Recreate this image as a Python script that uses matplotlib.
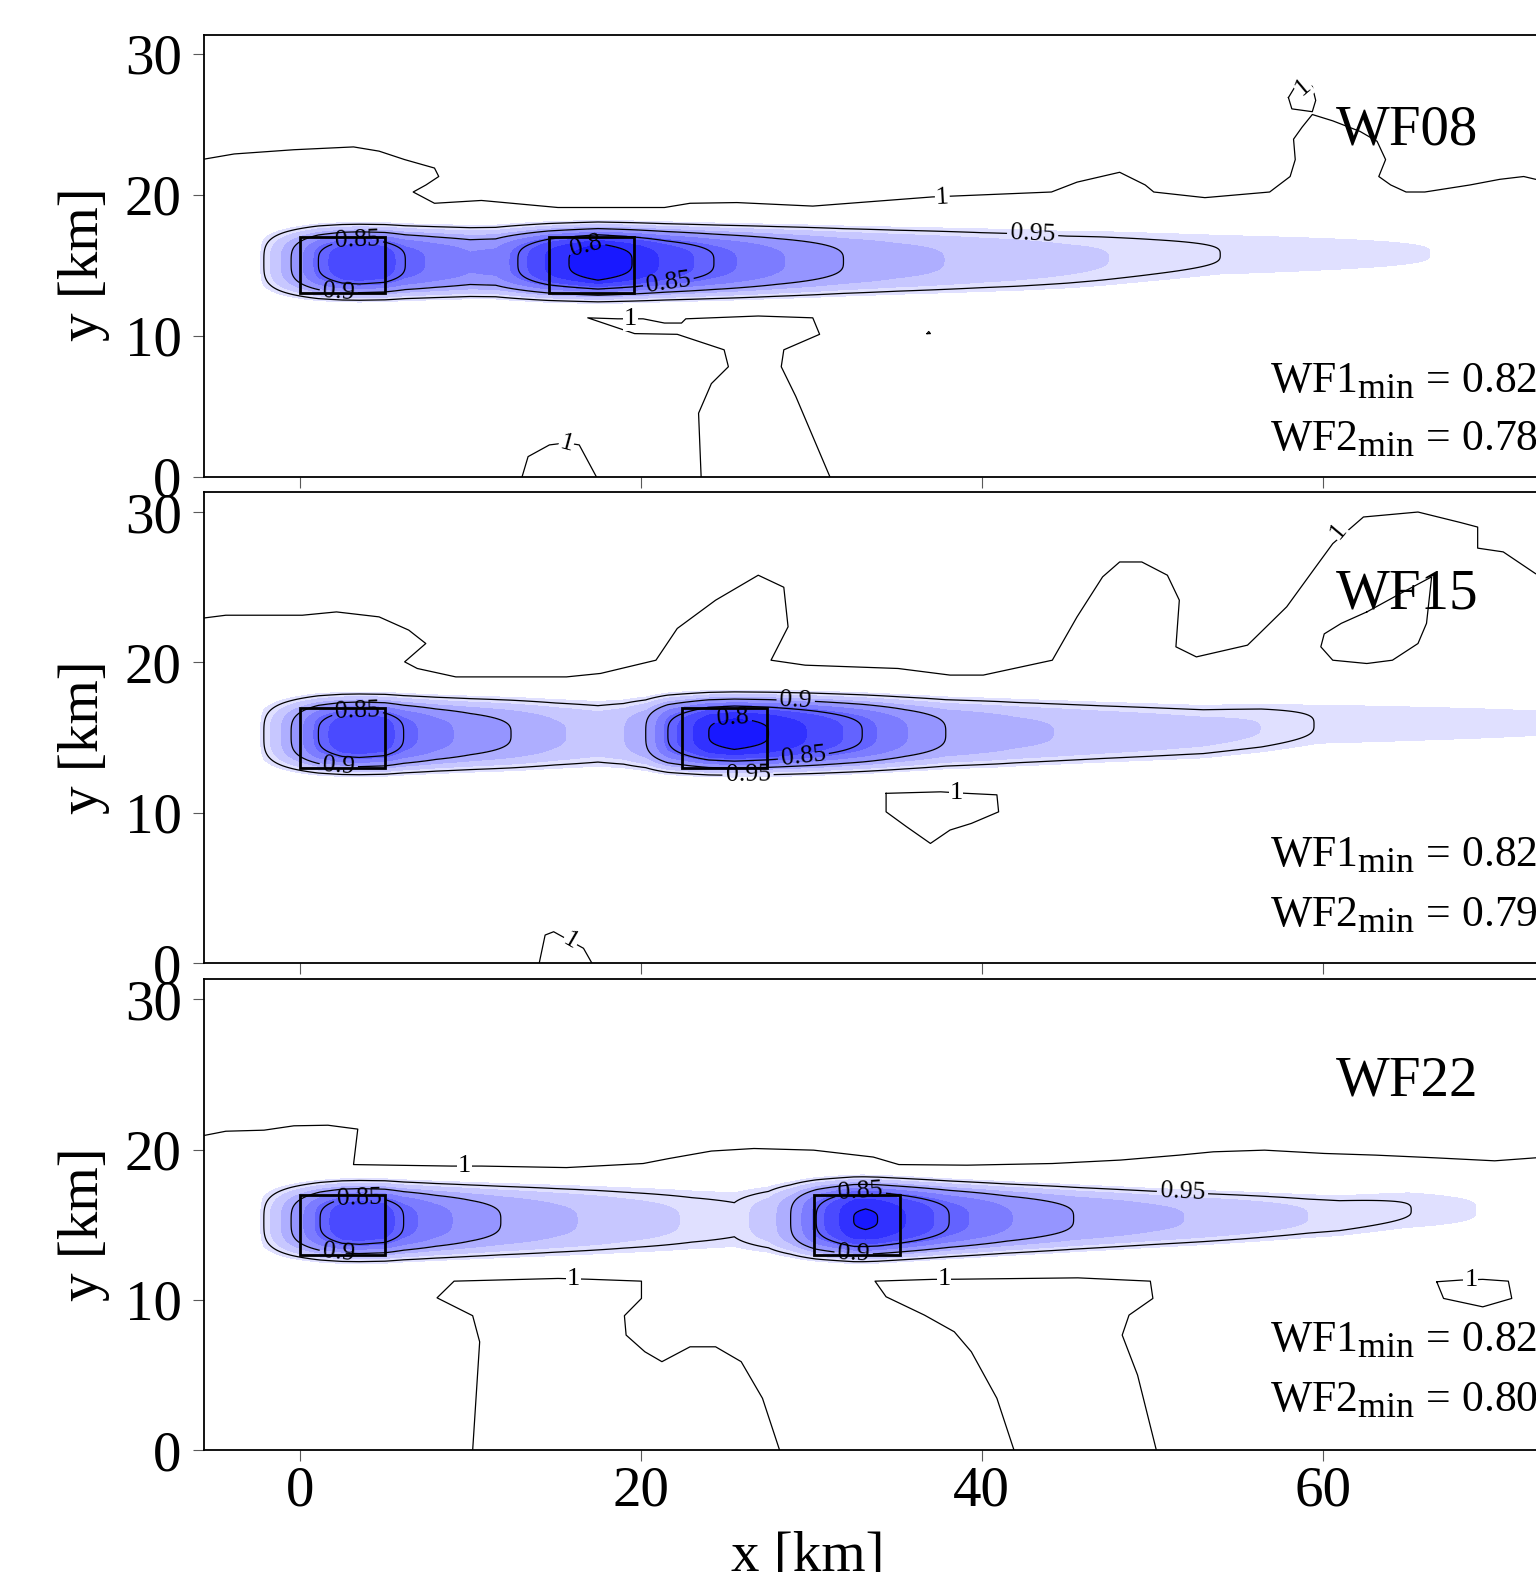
import numpy as np
import matplotlib
matplotlib.use("Agg")
import matplotlib.pyplot as plt
from matplotlib.colors import LinearSegmentedColormap, Normalize
from matplotlib.patches import Rectangle
try:
    import matplotlib._mathtext as _mt
    _mt.SHRINK_FACTOR = 0.82
except Exception:
    pass

plt.rcParams['font.family'] = ['Liberation Serif', 'DejaVu Serif']
plt.rcParams['mathtext.fontset'] = 'custom'
plt.rcParams['mathtext.rm'] = 'Liberation Serif'
plt.rcParams['mathtext.it'] = 'Liberation Serif:italic'

# ---------------- data ----------------
panel_names = ['WF08', 'WF15', 'WF22']
wf1_min = ['0.82', '0.82', '0.82']
wf2_min = ['0.78', '0.79', '0.80']
farm1_x = [0.0, 5.0]
farm_y = [13.0, 17.0]
farm2_x = [[14.6, 19.6], [22.4, 27.4], [30.2, 35.2]]

# centerline velocity deficit along the wake (1 - U/U0)
xs1 = [-6, -3, -2.1, -0.5, 1.1, 2.5, 3.5, 5, 6.2, 8, 10, 11.5, 12.8, 14.6, 15.8, 17.5, 19.5, 21.5,
       24.3, 28, 31.9, 35, 40, 45, 50, 54, 60, 66.3, 72, 80]
D1 = [0, 0, 0.05, 0.10, 0.15, 0.175, 0.18, 0.172, 0.15, 0.135, 0.122, 0.125, 0.15, 0.185, 0.20, 0.22,
      0.20, 0.175, 0.15, 0.123, 0.10, 0.088, 0.074, 0.064, 0.056, 0.05, 0.045, 0.04, 0.036, 0.03]
xs2 = [-6, -3, -2.1, -0.5, 1.1, 2.5, 3.5, 5, 6.1, 8, 10, 12.4, 15, 17.5, 19, 20.3, 21.6, 24, 25.5,
       27.5, 30, 33, 35.5, 37.9, 42, 47, 52, 56.4, 59.5, 66, 73, 80]
D2 = [0, 0, 0.05, 0.10, 0.15, 0.175, 0.18, 0.172, 0.15, 0.128, 0.113, 0.10, 0.083, 0.072, 0.08, 0.10,
      0.15, 0.20, 0.21, 0.20, 0.178, 0.15, 0.122, 0.10, 0.085, 0.074, 0.066, 0.06, 0.05, 0.046, 0.042, 0.036]
xs3 = [-6, -3, -2.1, -0.5, 1.2, 2.5, 3.5, 5, 6.1, 8, 10, 11.8, 15, 19, 23, 25.5, 27.5, 28.8, 30.3,
       32.5, 33.2, 33.9, 36, 38.1, 41.5, 45.4, 50, 55, 59.2, 65.2, 69, 75, 80]
D3 = [0, 0, 0.05, 0.10, 0.15, 0.175, 0.18, 0.172, 0.15, 0.128, 0.112, 0.10, 0.085, 0.07, 0.058, 0.053,
      0.07, 0.10, 0.15, 0.20, 0.202, 0.20, 0.175, 0.15, 0.122, 0.10, 0.085, 0.072, 0.06, 0.05, 0.04,
      0.033, 0.028]
# wake centerline position
xc1 = [-6, 25, 45, 54, 80]
yc1 = [15.2, 15.25, 15.4, 15.75, 15.9]
xc2 = [-6, 25, 41, 53, 60, 80]
yc2 = [15.2, 15.27, 15.33, 15.4, 15.9, 16.0]
xc3 = [-6, 33, 53, 61, 65, 80]
yc3 = [15.2, 15.36, 15.47, 15.6, 15.97, 16.0]
# wake half-width scale
xw1 = [-6, 30, 42, 47, 54, 80]
w1 = [2.5, 2.55, 2.55, 2.45, 2.1, 1.9]
xw2 = [-6, 30, 41, 53, 60, 80]
w2 = [2.5, 2.5, 2.43, 2.15, 1.95, 1.8]
xw3 = [-6, 33, 45, 53, 61, 80]
w3 = [2.5, 2.57, 2.3, 2.03, 1.78, 1.6]

# U/U0 = 1 isolines
p1_top_x = [-6, -3.84, -0.34, 3.16, 4.66, 6.16, 7.91, 8.16, 7.41, 6.66, 7.91, 10.66, 15.15, 21.4, 22.9,
            25.65, 30.1, 37.1, 44.1, 45.6, 48.1, 49.6, 50.1, 53.1, 56.9, 58.1, 58.4, 58.3, 58.8, 59.4,
            60.6, 62.2, 63.2, 63.7, 63.3, 64.0, 64.9, 66.0, 68.65, 70.4, 71.8, 72.5, 76, 80]
p1_top_y = [22.45, 22.9, 23.2, 23.4, 23.1, 22.5, 21.9, 21.3, 20.7, 20.2, 19.4, 19.6, 19.1, 19.1, 19.4,
            19.45, 19.2, 19.85, 20.2, 20.9, 21.6, 20.7, 20.2, 19.8, 20.2, 21.3, 22.5, 23.95, 24.8, 25.7,
            25.25, 24.5, 23.8, 22.5, 21.3, 20.7, 20.2, 20.2, 20.7, 21.1, 21.3, 21.1, 21.0, 21.0]
p1_loop_x = [58.0, 58.2, 59.4, 59.6, 59.4, 58.5, 58.0]
p1_loop_y = [26.9, 26.1, 25.9, 26.7, 27.7, 27.9, 26.9]
p1_tongue_x = [23.55, 23.4, 24.15, 25.15, 24.9, 22.15, 19.65, 16.9, 18.65, 20.15, 21.4, 22.4, 22.65,
               26.9, 30.1, 30.5, 28.4, 28.25, 29.1, 31.1]
p1_tongue_y = [0, 4.5, 6.6, 7.8, 9.0, 10.1, 10.15, 11.27, 11.2, 11.2, 10.9, 10.9, 11.2, 11.4, 11.27,
               10.1, 9.0, 7.8, 5.7, 0]
p1_hill_x = [13.05, 13.4, 14.65, 15.65, 16.4, 17.4]
p1_hill_y = [0, 1.42, 2.25, 2.4, 2.25, 0]
p1_dot_x = [36.8, 37.0, 36.9, 36.8]
p1_dot_y = [10.15, 10.15, 10.3, 10.15]

p2_top_x = [-6, -4.33, 0.16, 2.16, 4.66, 6.4, 7.4, 6.16, 6.9, 9.16, 15.65, 17.65, 20.9, 22.15, 24.4,
            26.9, 28.4, 28.65, 27.65, 29.65, 35.1, 38.15, 40.1, 44.15, 45.6, 47.1, 48.1, 49.4, 50.9,
            51.6, 51.4, 52.6, 55.6, 56.1, 57.9, 59.6, 60.6, 62.4, 65.6, 68.1, 69.1, 69.1, 70.6, 72.5,
            75, 80]
p2_top_y = [22.9, 23.14, 23.14, 23.36, 23.03, 22.15, 21.26, 20.04, 19.6, 19.04, 19.04, 19.27, 20.15,
            22.26, 24.14, 25.8, 25.0, 22.37, 20.15, 19.82, 19.6, 19.16, 19.16, 20.15, 23.03, 25.69,
            26.68, 26.68, 25.8, 24.14, 21.04, 20.37, 21.15, 21.7, 23.7, 26.35, 27.9, 29.67, 30.0, 29.3,
            29.0, 27.6, 27.35, 25.9, 25.0, 24.0]
p2_loop_x = [62.6, 61.1, 60.1, 59.9, 60.6, 62.6, 64.1, 65.6, 66.1, 66.4, 64.6, 62.6]
p2_loop_y = [23.36, 22.6, 21.9, 21.04, 20.15, 19.93, 20.15, 21.26, 22.6, 25.69, 24.6, 23.36]
p2_shape_x = [34.4, 37.6, 39.1, 40.9, 41.0, 39.4, 38.15, 37.0, 35.6, 34.4, 34.4]
p2_shape_y = [11.3, 11.4, 11.3, 11.2, 10.07, 9.3, 8.86, 7.97, 9.08, 10.07, 11.3]
p2_hill_x = [14.05, 14.4, 14.9, 15.9, 16.65, 17.15]
p2_hill_y = [0, 1.88, 2.1, 1.47, 1.0, 0]

p3_top_x = [-6, -4.33, -2.09, -0.34, 1.66, 3.41, 3.16, 8.9, 10.66, 15.65, 20.15, 21.65, 24.15, 26.65,
            30.15, 33.65, 35.15, 39.15, 44.15, 48.15, 51.6, 53.6, 56.6, 60.1, 63.1, 66.6, 70.1, 72.5,
            76, 80]
p3_top_y = [20.85, 21.22, 21.29, 21.58, 21.62, 21.36, 19.0, 18.9, 18.9, 18.8, 19.07, 19.4, 19.9, 20.07,
            19.96, 19.5, 19.0, 18.96, 19.07, 19.3, 19.63, 19.85, 19.96, 19.74, 19.63, 19.45, 19.25,
            19.45, 19.5, 19.5]
p3_tongA_x = [10.15, 10.56, 10.15, 8.06, 9.06, 15.15, 16.9, 20.05, 20.05, 19.05, 19.15, 20.25, 21.25,
              22.9, 24.4, 25.9, 27.15, 28.15]
p3_tongA_y = [0, 7.2, 8.94, 10.13, 11.24, 11.42, 11.37, 11.24, 10.09, 8.94, 7.65, 6.54, 5.88, 6.87,
              6.87, 5.88, 3.44, 0]
p3_tongB_x = [41.9, 40.9, 39.4, 38.4, 36.65, 34.4, 33.75, 37.15, 38.65, 45.65, 49.9, 50.05, 48.65,
              48.25, 49.15, 50.25]
p3_tongB_y = [0, 3.44, 6.54, 7.87, 8.98, 10.2, 11.24, 11.36, 11.37, 11.46, 11.24, 10.09, 8.98, 7.65,
              4.99, 0]
p3_loop_x = [66.7, 68.1, 69.4, 70.9, 71.1, 69.4, 67.1, 66.7]
p3_loop_y = [11.2, 11.31, 11.36, 11.24, 10.09, 9.53, 10.09, 11.2]

fill_levels = [0.76, 0.78, 0.80, 0.82, 0.84, 0.86, 0.88, 0.90, 0.92, 0.94, 0.96]
line_levels = [0.80, 0.85, 0.90, 0.95]

# ---------------- panel setup ----------------
wakes = [(xs1, D1, xc1, yc1, xw1, w1), (xs2, D2, xc2, yc2, xw2, w2), (xs3, D3, xc3, yc3, xw3, w3)]
one_lines = [
    [(p1_top_x, p1_top_y), (p1_loop_x, p1_loop_y), (p1_tongue_x, p1_tongue_y),
     (p1_hill_x, p1_hill_y), (p1_dot_x, p1_dot_y)],
    [(p2_top_x, p2_top_y), (p2_loop_x, p2_loop_y), (p2_shape_x, p2_shape_y), (p2_hill_x, p2_hill_y)],
    [(p3_top_x, p3_top_y), (p3_tongA_x, p3_tongA_y), (p3_tongB_x, p3_tongB_y), (p3_loop_x, p3_loop_y)],
]
one_labels = [
    [(37.7, 19.82, 3), (58.85, 27.65, 40), (19.4, 11.2, 0), (15.65, 2.35, -15)],
    [(60.9, 28.75, 50), (38.5, 11.33, 0), (15.9, 1.5, -30)],
    [(9.65, 18.9, 0), (16.05, 11.38, 0), (37.8, 11.37, 0), (68.7, 11.32, 0)],
]
clabel_pos = [
    {0.85: [(3.4, 16.5), (21.6, 14.1)], 0.9: [(2.3, 13.1)], 0.8: [(16.9, 16.0)], 0.95: [(43.0, 17.3)]},
    {0.85: [(3.4, 16.5), (29.5, 14.3)], 0.9: [(2.3, 13.2), (29.1, 17.5)], 0.8: [(25.5, 15.8)],
     0.95: [(26.3, 12.5)]},
    {0.85: [(3.5, 16.6), (32.9, 16.85)], 0.9: [(2.3, 13.2), (32.5, 13.1)], 0.95: [(51.8, 17.5)]},
]
wf1_y = [6.0, 6.45, 6.6]
wf2_y = [1.9, 2.5, 2.6]

fig = plt.figure(figsize=(15.36, 15.72), dpi=100)
bottoms = [0.6968, 0.3872, 0.0776]
heights = [0.2810, 0.3000, 0.2996]
left, width = 0.1327, 0.9503
XMIN, XMAX, YMAX = -5.62, 80.0, 31.35

xg = np.arange(-6, 80.001, 0.1)
yg = np.arange(0, 31.6, 0.05)
X, Y = np.meshgrid(xg, yg)

cmap = LinearSegmentedColormap.from_list('wb', ['#0000ff', '#ffffff'])
norm = Normalize(vmin=0.77, vmax=0.975)

for i in range(3):
    ax = fig.add_axes([left, bottoms[i], width, heights[i]])
    xs, D, xc, yc, xw, w = wakes[i]
    d = np.interp(xg, xs, D)
    c = np.interp(xg, xc, yc)
    s = np.interp(xg, xw, w)
    U = 1 - d[None, :] * np.exp(-np.abs((Y - c[None, :]) / s[None, :]) ** 3.5)

    ax.contourf(X, Y, U, levels=fill_levels, cmap=cmap, norm=norm, zorder=1)
    for lev in line_levels:
        cs = ax.contour(X, Y, U, levels=[lev], colors='k', linewidths=0.9, zorder=2)
        pts = clabel_pos[i].get(lev, [])
        if pts:
            ax.clabel(cs, manual=pts, inline=True, inline_spacing=3,
                      fontsize=18.5, fmt=lambda v: f'{v:g}')

    for lx, ly in one_lines[i]:
        ax.plot(lx, ly, color='k', lw=0.9, zorder=2)
    for tx, ty, rot in one_labels[i]:
        ax.text(tx, ty, '1', fontsize=19, ha='center', va='center', rotation=rot, zorder=3,
                bbox=dict(facecolor='white', edgecolor='none', pad=0.6))

    for fx in (farm1_x, farm2_x[i]):
        ax.add_patch(Rectangle((fx[0], farm_y[0]), fx[1] - fx[0], farm_y[1] - farm_y[0],
                               fill=False, edgecolor='k', lw=2.0, zorder=5))

    ax.text(60.8, 23.6, panel_names[i], fontsize=41, ha='left', va='baseline', zorder=6)
    ax.text(56.9, wf1_y[i], r'$\mathrm{WF1}_{\mathrm{min}}$ = ' + wf1_min[i], fontsize=31.5,
            ha='left', va='baseline', zorder=6)
    ax.text(56.9, wf2_y[i], r'$\mathrm{WF2}_{\mathrm{min}}$ = ' + wf2_min[i], fontsize=31.5,
            ha='left', va='baseline', zorder=6)

    ax.set_xlim(XMIN, XMAX)
    ax.set_ylim(0, YMAX)
    ax.set_xticks([0, 20, 40, 60, 80])
    ax.set_yticks([0, 10, 20, 30])
    ax.tick_params(axis='both', direction='out', length=8, width=0.8, color='0.35', labelsize=41)
    ax.tick_params(axis='y', pad=8)
    ax.tick_params(axis='x', pad=3.5)
    for sp in ax.spines.values():
        sp.set_linewidth(1.3)
    ax.set_ylabel('y [km]', fontsize=41)
    ax.yaxis.set_label_coords(-0.064, 0.48)
    if i < 2:
        ax.tick_params(axis='x', labelbottom=False)
    else:
        ax.set_xlabel('x [km]', fontsize=41)
        ax.xaxis.set_label_coords(0.4139, -0.172)

fig.savefig('out.png', dpi=100)
